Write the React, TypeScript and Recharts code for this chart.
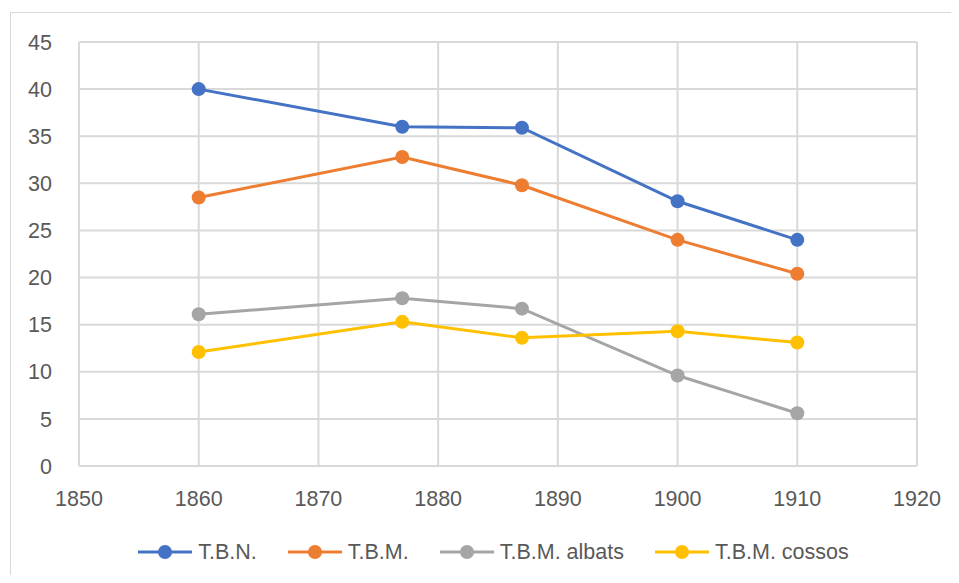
import { LineChart, Line, XAxis, YAxis, CartesianGrid } from "recharts";

const years = [1860, 1877, 1887, 1900, 1910];
const tbn = [40.0, 36.0, 35.9, 28.1, 24.0];
const tbm = [28.5, 32.8, 29.8, 24.0, 20.4];
const tbmAlbats = [16.1, 17.8, 16.7, 9.6, 5.6];
const tbmCossos = [12.1, 15.3, 13.6, 14.3, 13.1];

const xTicks = [1850, 1860, 1870, 1880, 1890, 1900, 1910, 1920];
const yTicks = [0, 5, 10, 15, 20, 25, 30, 35, 40, 45];

const seriesList = [
    { key: "tbn", name: "T.B.N.", color: "#4472C4", values: tbn },
    { key: "tbm", name: "T.B.M.", color: "#ED7D31", values: tbm },
    { key: "albats", name: "T.B.M. albats", color: "#A5A5A5", values: tbmAlbats },
    { key: "cossos", name: "T.B.M. cossos", color: "#FFC000", values: tbmCossos },
];

const data = years.map((year, i) => {
    const row: Record<string, number> = { year };
    seriesList.forEach(s => { row[s.key] = s.values[i]; });
    return row;
});

const FONT = "'Liberation Sans', Arial, sans-serif";
const tickStyle = { fill: "#595959", fontSize: 21.5, fontFamily: FONT };

const ChartLegend = () => (
    <div style={{ position: "absolute", left: 14, top: 539, width: 959, display: "flex", justifyContent: "center",
        alignItems: "center", gap: 31, fontFamily: FONT, fontSize: 21.5, color: "#595959", lineHeight: "26px" }}>
        {seriesList.map(s => (
            <div key={s.key} style={{ display: "flex", alignItems: "center" }}>
                <svg width={54} height={16} style={{ marginRight: 6 }}>
                    <line x1={0} y1={8} x2={54} y2={8} stroke={s.color} strokeWidth={3} />
                    <circle cx={27} cy={8} r={7} fill={s.color} />
                </svg>
                <span>{s.name}</span>
            </div>
        ))}
    </div>
);

const App = () => (
    <div style={{ position: "relative", width: 959, height: 583, margin: -8, overflow: "hidden", background: "#fff" }}>
        <div style={{ position: "absolute", left: 10, top: 12, width: 960, height: 600, border: "1.5px solid #d9d9d9" }} />
        <LineChart width={959} height={583} data={data}
            margin={{ top: 42, right: 42, bottom: 87, left: 29 }}
            style={{ position: "absolute", left: 0, top: 0 }}>
            <CartesianGrid stroke="#d9d9d9" strokeWidth={2} />
            <XAxis dataKey="year" type="number" domain={[1850, 1920]} ticks={xTicks} height={30}
                tick={tickStyle} tickSize={0} tickMargin={25} axisLine={{ stroke: "#d9d9d9", strokeWidth: 2 }} />
            <YAxis type="number" domain={[0, 45]} ticks={yTicks} width={50}
                tick={tickStyle} tickSize={0} tickMargin={27} axisLine={false} />
            {seriesList.map(s => (
                <Line key={s.key} dataKey={s.key} name={s.name} stroke={s.color} strokeWidth={3}
                    dot={{ r: 7, fill: s.color, stroke: s.color, strokeWidth: 0 }}
                    activeDot={false} isAnimationActive={false} />
            ))}
        </LineChart>
        <ChartLegend />
    </div>
);

export default App;
